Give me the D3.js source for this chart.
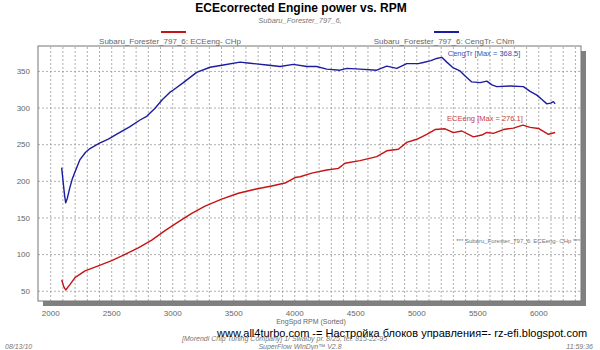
<!DOCTYPE html>
<html><head><meta charset="utf-8">
<script src="https://cdn.jsdelivr.net/npm/d3@7"></script>
<style>
body{margin:0;background:#fff;}
svg{display:block;font-family:"Liberation Sans",Arial,sans-serif;}
</style></head>
<body><svg id="c" width="600" height="350"></svg>
<script>
// ---- data ----
const torqueRpm = [2094,2105,2118,2127,2140,2160,2180,2203,2244,2290,2326,2400,2476,2560,2654,2736,2791,2859,2920,2982,3009,3091,3200,3310,3419,3556,3638,3775,3884,3993,4102,4184,4266,4375,4430,4539,4676,4758,4840,4922,5017,5058,5120,5168,5209,5250,5304,5359,5400,5455,5523,5578,5620,5660,5769,5878,5933,5988,6030,6070,6100,6124,6138];
const torqueNm  = [218,200,180,170,176,190,202,212,229,239,244,251,257,265,274,283,288,299,311,321,324,334,348,355,358,362,360.5,358,356,359,356,356,352.5,351,353.5,352.5,351,356.5,353.5,360,360,361.5,364,367,368.5,362,354,350,343,335,334,336,331,328.5,329.5,328.5,322,317,311,305,306,308,305];
const powerRpm = [2094,2110,2127,2160,2203,2285,2394,2504,2613,2722,2832,2941,3050,3160,3269,3405,3542,3679,3815,3924,4007,4048,4143,4266,4362,4416,4539,4676,4758,4853,4922,5004,5086,5154,5236,5304,5373,5468,5537,5578,5632,5714,5796,5873,5933,6001,6083,6138];
const powerHp  = [65,56,51,58,68,77,84,91,99.5,108.5,119,132,144,155.5,165.5,175,183,188.5,193,197,204.5,205.6,210.5,214.8,217,224,227.5,233,241,243,252.5,256.7,263.5,270,271,265.7,268,260,262.5,266,264.8,270,272,276,273,271.5,263.5,266];
const xTicks = [2000,2500,3000,3500,4000,4500,5000,5500,6000];
const yTicks = [50,100,150,200,250,300,350];
const titleText = "ECEcorrected Engine power vs. RPM";
const subtitleText = "Subaru_Forester_797_6,";
const seriesNames = ["Subaru_Forester_797_6: ECEeng- CHp","Subaru_Forester_797_6: CengTr- CNm"];
const maxLabels = ["ECEeng [Max = 276.1]","CengTr [Max = 368.5]"];

// ---- layout ----
const svg = d3.select("#c");
const L=38,R=581,T=46,B=301;
const x = d3.scaleLinear().domain([1900,6350]).range([L,R]);
const y = d3.scaleLinear().domain([36,384]).range([B,T]);
const RED="#c41414", BLUE="#1c1ca0", GRAY="#666";

// shadow
svg.append("rect").attr("x",L+5).attr("y",T+5).attr("width",R-L).attr("height",B-T).attr("fill","#808080");
svg.append("rect").attr("x",L).attr("y",T).attr("width",R-L).attr("height",B-T).attr("fill","#fff");

// grid
const vGrid = d3.range(2000,6350,100);
svg.append("g").attr("transform",`translate(0,${B})`)
  .call(d3.axisBottom(x).tickValues(vGrid).tickSize(-(B-T)).tickFormat(""))
  .call(g=>g.select(".domain").remove())
  .call(g=>g.selectAll("line").attr("stroke","#999").attr("stroke-dasharray","2,2").attr("stroke-width",0.8));
svg.append("g").attr("transform",`translate(${L},0)`)
  .call(d3.axisLeft(y).tickValues(yTicks).tickSize(-(R-L)).tickFormat(""))
  .call(g=>g.select(".domain").remove())
  .call(g=>g.selectAll("line").attr("stroke","#999").attr("stroke-dasharray","2,2").attr("stroke-width",0.8));

// border
svg.append("rect").attr("x",L).attr("y",T).attr("width",R-L).attr("height",B-T).attr("fill","none").attr("stroke","#777").attr("stroke-width",1);

// tick labels
svg.append("g").attr("transform",`translate(${L-8},0)`)
  .call(d3.axisLeft(y).tickValues(yTicks).tickSize(0).tickPadding(0))
  .call(g=>g.select(".domain").remove())
  .call(g=>g.selectAll("text").attr("fill",GRAY).style("font-size","8px").style("font-family","Liberation Sans, Arial, sans-serif"));
svg.append("g").attr("transform",`translate(0,${B+9})`)
  .call(d3.axisBottom(x).tickValues(xTicks).tickSize(0).tickPadding(0).tickFormat(d3.format("d")))
  .call(g=>g.select(".domain").remove())
  .call(g=>g.selectAll("text").attr("fill",GRAY).style("font-size","8px").style("font-family","Liberation Sans, Arial, sans-serif"));

// lines
const line = d3.line().x(d=>x(d[0])).y(d=>y(d[1])).curve(d3.curveLinear);
svg.append("path").datum(torqueRpm.map((r,i)=>[r,torqueNm[i]])).attr("d",line).attr("fill","none").attr("stroke",BLUE).attr("stroke-width",1.4).attr("stroke-linejoin","round");
svg.append("path").datum(powerRpm.map((r,i)=>[r,powerHp[i]])).attr("d",line).attr("fill","none").attr("stroke",RED).attr("stroke-width",1.4).attr("stroke-linejoin","round");

// max labels
svg.append("text").attr("x",x(5873)+0).attr("y",y(276.1)-4).attr("text-anchor","end").attr("fill","#c84040").style("font-size","7.5px").text(maxLabels[0]);
svg.append("text").attr("x",x(5209)+6).attr("y",y(368.5)-1).attr("text-anchor","start").attr("fill","#4050b0").style("font-size","7.5px").text(maxLabels[1]);
svg.append("text").attr("x",580).attr("y",243).attr("text-anchor","end").attr("fill","#777").style("font-size","6px").text("***  "+seriesNames[0]+"   ***");

// titles
svg.append("text").attr("x",301).attr("y",12).attr("text-anchor","middle").attr("fill","#000").style("font-size","12px").style("font-weight","bold").text(titleText);
svg.append("text").attr("x",300).attr("y",22.5).attr("text-anchor","middle").attr("fill","#777").style("font-size","7.5px").style("font-style","italic").text(subtitleText);

// legend
[[RED,161,186,170],[BLUE,434,459,444]].forEach((d,i)=>{
  svg.append("line").attr("x1",d[1]).attr("x2",d[2]).attr("y1",32).attr("y2",32).attr("stroke",d[0]).attr("stroke-width",2);
  svg.append("text").attr("x",d[3]).attr("y",44).attr("text-anchor","middle").attr("fill",GRAY).style("font-size","8px").text(seriesNames[i]);
});

// bottom texts
svg.append("text").attr("x",311).attr("y",324).attr("text-anchor","middle").attr("fill",GRAY).style("font-size","7px").text("EngSpd  RPM    (Sorted)");
svg.append("text").attr("x",182).attr("y",340.5).attr("fill","#777").style("font-size","7px").style("font-style","italic").text("[Morendi Chip Tuning Company] 1/ Swalby pr. 8/25, tel. 815-22-95");
svg.append("text").attr("x",217).attr("y",336.5).attr("fill","#000").style("font-size","11px").text("www.all4turbo.com   -= Настройка блоков управления=-   rz-efi.blogspot.com");
svg.append("text").attr("x",5).attr("y",348.5).attr("fill","#777").style("font-size","7px").style("font-style","italic").text("08/13/10");
svg.append("text").attr("x",300).attr("y",348.5).attr("text-anchor","middle").attr("fill","#777").style("font-size","7px").style("font-style","italic").text("SuperFlow WinDyn™ V2.8");
svg.append("text").attr("x",593).attr("y",348.5).attr("text-anchor","end").attr("fill","#777").style("font-size","7px").style("font-style","italic").text("11:59:36");
</script></body></html>
